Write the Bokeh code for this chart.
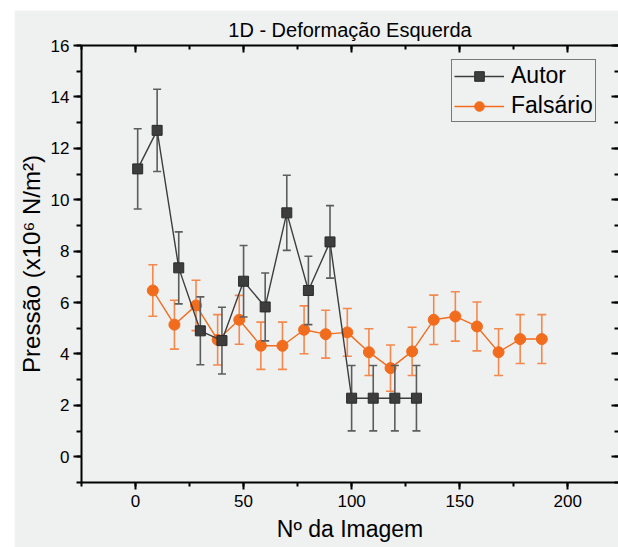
from bokeh.plotting import figure
from bokeh.models import (ColumnDataSource, LinearAxis, Range1d, SingleIntervalTicker,
                          Legend, LegendItem)
from bokeh.embed import file_html
from bokeh.resources import INLINE

# ---- data ----
autor_x = [1, 10, 20, 30, 40, 50, 60, 70, 80, 90, 100, 110, 120, 130]
autor_y = [11.2, 12.7, 7.35, 4.9, 4.52, 6.83, 5.83, 9.49, 6.47, 8.36, 2.28, 2.28, 2.28, 2.28]
autor_err = [1.56, 1.6, 1.4, 1.32, 1.3, 1.39, 1.32, 1.46, 1.33, 1.41, 1.27, 1.27, 1.27, 1.27]

fals_x = [8, 18, 28, 38, 48, 58, 68, 78, 88, 98, 108, 118, 128, 138, 148, 158, 168, 178, 188]
fals_y = [6.47, 5.14, 5.89, 4.55, 5.33, 4.32, 4.32, 4.94, 4.77, 4.84, 4.07, 3.45, 4.1,
          5.33, 5.46, 5.07, 4.07, 4.58, 4.58]
fals_err = [1.0, 0.95, 0.98, 0.98, 0.95, 0.92, 0.92, 0.93, 0.93, 0.93, 0.91, 0.9, 0.94,
            0.96, 0.96, 0.95, 0.91, 0.95, 0.95]

title_text = "1D - Deformação Esquerda"
x_label = "Nº da Imagem"
y_label = "Pressão (x10⁶ N/m²)"
series_names = ["Autor", "Falsário"]

BG = "#eff0f0"
FONT = "Liberation Sans"
A_COL = "#3d3d3d"
A_ERR = "#5c5c5c"
F_COL = "#f26c1e"
F_ERR = "#f5884c"


def src(xs, ys, es):
    return ColumnDataSource(dict(x=xs, y=ys,
                                 lo=[a - b for a, b in zip(ys, es)],
                                 hi=[a + b for a, b in zip(ys, es)]))


a_src = src(autor_x, autor_y, autor_err)
f_src = src(fals_x, fals_y, fals_err)

p = figure(width=604, height=537, output_backend="svg", toolbar_location=None,
           x_range=Range1d(-25, 223.5), y_range=Range1d(-1, 16),
           min_border_left=66, min_border_right=0, min_border_top=35, min_border_bottom=65,
           background_fill_color=BG, border_fill_color=BG, x_axis_location=None,
           y_axis_location=None)
p.margin = (10, 0, 0, 14)
p.outline_line_color = None
p.grid.visible = False

p.title.text = title_text
p.title.align = "center"
p.title.text_font = FONT
p.title.text_font_size = "20px"
p.title.text_font_style = "normal"
p.title.text_color = "black"
p.title.standoff = 10

xt = SingleIntervalTicker(interval=50, num_minor_ticks=2)
yt = SingleIntervalTicker(interval=2, num_minor_ticks=2)


def style(ax, labels=True):
    ax.axis_line_width = 2
    ax.major_tick_line_width = 2
    ax.minor_tick_line_width = 2
    ax.axis_line_color = "black"
    ax.major_tick_line_color = "black"
    ax.minor_tick_line_color = "black"
    if labels:
        ax.major_label_text_font = FONT
        ax.major_label_text_font_size = "17px"
        ax.major_label_text_color = "black"
        ax.axis_label_text_font = FONT
        ax.axis_label_text_font_size = "23px"
        ax.axis_label_text_font_style = "normal"
        ax.axis_label_text_color = "black"
    else:
        ax.major_label_text_font_size = "0px"
        ax.major_label_text_color = None
        ax.major_label_standoff = 0


xb = LinearAxis(ticker=xt, axis_label=x_label)
style(xb)
xb.major_tick_out = 7
xb.major_tick_in = 0
xb.minor_tick_out = 4
xb.minor_tick_in = 0
xb.major_label_standoff = 5
xb.axis_label_standoff = 6
p.add_layout(xb, "below")

yl = LinearAxis(ticker=yt, axis_label=y_label)
style(yl)
yl.axis_label_text_font_size = "24px"
yl.major_tick_out = 8
yl.major_tick_in = 0
yl.minor_tick_out = 5
yl.minor_tick_in = 0
yl.major_label_standoff = 4
yl.axis_label_standoff = 3
p.add_layout(yl, "left")

xa = LinearAxis(ticker=xt)
style(xa, labels=False)
xa.major_tick_in = 7
xa.major_tick_out = 0
xa.minor_tick_in = 4
xa.minor_tick_out = 0
p.add_layout(xa, "above")

yr = LinearAxis(ticker=yt)
style(yr, labels=False)
yr.axis_line_color = None
yr.major_tick_in = 7
yr.major_tick_out = 0
yr.minor_tick_in = 4
yr.minor_tick_out = 0
p.add_layout(yr, "right")

# Falsário (drawn first)
p.segment(x0="x", y0="lo", x1="x", y1="hi", source=f_src, line_color=F_ERR, line_width=1.6)
p.scatter(x="x", y="hi", source=f_src, marker="dash", size=9, line_color=F_ERR, line_width=1.6)
p.scatter(x="x", y="lo", source=f_src, marker="dash", size=9, line_color=F_ERR, line_width=1.6)
f_line = p.line(x="x", y="y", source=f_src, line_color=F_COL, line_width=1.4)
f_pts = p.scatter(x="x", y="y", source=f_src, marker="circle", size=11,
                  fill_color=F_COL, line_color=F_COL)

# Autor
p.segment(x0="x", y0="lo", x1="x", y1="hi", source=a_src, line_color=A_ERR, line_width=1.6)
p.scatter(x="x", y="hi", source=a_src, marker="dash", size=8, line_color=A_ERR, line_width=1.6)
p.scatter(x="x", y="lo", source=a_src, marker="dash", size=8, line_color=A_ERR, line_width=1.6)
a_line = p.line(x="x", y="y", source=a_src, line_color=A_COL, line_width=1.4)
a_pts = p.scatter(x="x", y="y", source=a_src, marker="square", size=10,
                  fill_color=A_COL, line_color="#2a2a2a")

legend = Legend(items=[LegendItem(label=series_names[0], renderers=[a_line, a_pts]),
                       LegendItem(label=series_names[1], renderers=[f_line, f_pts])],
                location=(370, 360))
legend.margin = 0
legend.padding = 2
legend.spacing = 3
legend.glyph_width = 50
legend.glyph_height = 24
legend.label_height = 24
legend.label_standoff = 7
legend.label_text_font = FONT
legend.label_text_font_size = "23px"
legend.label_text_color = "black"
legend.border_line_color = "black"
legend.border_line_width = 1.2
legend.background_fill_alpha = 0
p.add_layout(legend, "center")

open("out.html", "w").write(file_html(p, INLINE))
